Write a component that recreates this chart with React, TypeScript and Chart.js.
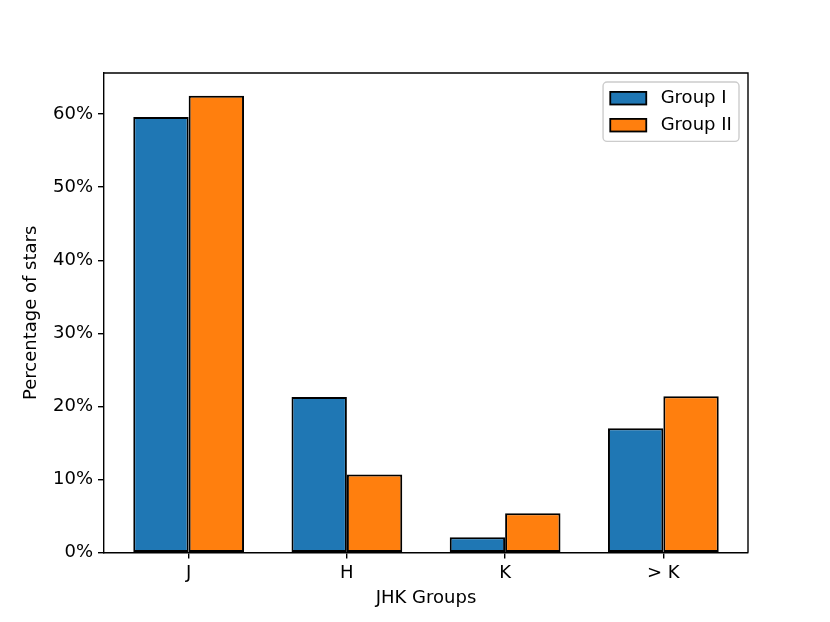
import { useEffect, useRef } from 'react'
import { Chart, registerables } from 'chart.js'

Chart.register(...registerables)

const categories = ['J', 'H', 'K', '> K']
const groupI = [59.6, 21.3, 2.1, 17.0]
const groupII = [62.5, 10.7, 5.4, 21.4]
const yTicks = [0, 10, 20, 30, 40, 50, 60]

const FONT = '"DejaVu Sans", sans-serif'
const FS = 18

// matplotlib-style top/right spines
const spinesPlugin = {
  id: 'spines',
  afterDraw(chart: any) {
    const { ctx, chartArea } = chart
    ctx.save()
    ctx.strokeStyle = '#000'
    ctx.lineWidth = 1.4
    ctx.beginPath()
    ctx.moveTo(chartArea.left, chartArea.top)
    ctx.lineTo(chartArea.right, chartArea.top)
    ctx.lineTo(chartArea.right, chartArea.bottom)
    ctx.stroke()
    ctx.restore()
  }
}

// legend drawn inside the axes, upper right
const legendPlugin = {
  id: 'innerLegend',
  afterDraw(chart: any) {
    const { ctx, chartArea } = chart
    const sets = chart.data.datasets
    ctx.save()
    ctx.font = `${FS}px ${FONT}`
    const textW = Math.max(...sets.map((d: any) => ctx.measureText(d.label).width))
    const pad = 0.4 * FS
    const handleW = 2 * FS
    const handleH = 0.7 * FS
    const gap = 0.8 * FS
    const spacing = 0.5 * FS
    const w = pad * 2 + handleW + gap + textW
    const h = pad * 2 + sets.length * FS + (sets.length - 1) * spacing
    const x = chartArea.right - 0.5 * FS - w
    const y = chartArea.top + 0.5 * FS
    ctx.beginPath()
    ctx.roundRect(x, y, w, h, 4)
    ctx.fillStyle = 'rgba(255,255,255,0.8)'
    ctx.fill()
    ctx.strokeStyle = '#cccccc'
    ctx.lineWidth = 1.4
    ctx.stroke()
    sets.forEach((d: any, i: number) => {
      const cy = y + pad + FS / 2 + i * (FS + spacing)
      ctx.fillStyle = d.backgroundColor
      ctx.fillRect(x + pad, cy - handleH / 2, handleW, handleH)
      ctx.strokeStyle = '#000'
      ctx.lineWidth = 1.8
      ctx.strokeRect(x + pad, cy - handleH / 2, handleW, handleH)
      ctx.fillStyle = '#000'
      ctx.textBaseline = 'middle'
      ctx.textAlign = 'left'
      ctx.fillText(d.label, x + pad + handleW + gap, cy)
    })
    ctx.restore()
  }
}

export default function App() {
  const chartRef = useRef<HTMLCanvasElement>(null)
  const chartInstance = useRef<Chart | null>(null)

  useEffect(() => {
    document.body.style.margin = '0'
    if (!chartRef.current) return
    if (chartInstance.current) chartInstance.current.destroy()

    const ctx = chartRef.current.getContext('2d')
    if (!ctx) return

    const yMax = Math.max(...groupI, ...groupII) * 1.05

    chartInstance.current = new Chart(ctx, {
      type: 'bar',
      data: {
        datasets: [
          {
            label: 'Group I',
            data: categories.map((_, i) => ({ x: i, y: groupI[i] })),
            backgroundColor: '#1f77b4',
            borderColor: '#000',
            borderWidth: 2,
            borderSkipped: false,
            categoryPercentage: 0.7,
            barPercentage: 1
          },
          {
            label: 'Group II',
            data: categories.map((_, i) => ({ x: i, y: groupII[i] })),
            backgroundColor: '#ff7f0e',
            borderColor: '#000',
            borderWidth: 2,
            borderSkipped: false,
            categoryPercentage: 0.7,
            barPercentage: 1
          }
        ]
      },
      options: {
        responsive: false,
        animation: false,
        devicePixelRatio: 1,
        layout: { padding: { left: 0, right: 82, top: 73, bottom: 0 } },
        plugins: {
          legend: { display: false },
          tooltip: { enabled: false }
        },
        scales: {
          x: {
            type: 'linear',
            offset: false,
            min: -0.535,
            max: 3.535,
            afterBuildTicks: (scale: any) => {
              scale.ticks = categories.map((_, i) => ({ value: i }))
            },
            afterFit: (scale: any) => {
              scale.height = 69.4
            },
            ticks: {
              callback: (v: any) => categories[v],
              color: '#000',
              font: { family: FONT, size: FS },
              padding: 4,
              maxRotation: 0,
              autoSkip: false
            },
            grid: {
              display: true,
              offset: false,
              drawOnChartArea: false,
              drawTicks: true,
              tickLength: 6,
              color: '#000',
              lineWidth: 1.4
            },
            border: { display: true, color: '#000', width: 1.4 },
            title: {
              display: true,
              text: 'JHK Groups',
              color: '#000',
              font: { family: FONT, size: FS },
              padding: { top: 0, bottom: 13 }
            }
          },
          y: {
            min: 0,
            max: yMax,
            afterBuildTicks: (scale: any) => {
              scale.ticks = yTicks.map((v) => ({ value: v }))
            },
            afterFit: (scale: any) => {
              scale.width = 104
            },
            ticks: {
              callback: (v: any) => `${v}%`,
              color: '#000',
              font: { family: FONT, size: FS },
              padding: 5
            },
            grid: {
              display: true,
              drawOnChartArea: false,
              drawTicks: true,
              tickLength: 6,
              color: '#000',
              lineWidth: 1.4
            },
            border: { display: true, color: '#000', width: 1.4 },
            title: {
              display: true,
              text: 'Percentage of stars',
              color: '#000',
              font: { family: FONT, size: FS },
              padding: { top: 21, bottom: 0 }
            }
          }
        }
      },
      plugins: [spinesPlugin, legendPlugin]
    } as any)

    return () => {
      if (chartInstance.current) {
        chartInstance.current.destroy()
        chartInstance.current = null
      }
    }
  }, [])

  return (
    <div style={{ width: 830, height: 622, background: '#fff' }}>
      <canvas ref={chartRef} width={830} height={622} />
    </div>
  )
}
